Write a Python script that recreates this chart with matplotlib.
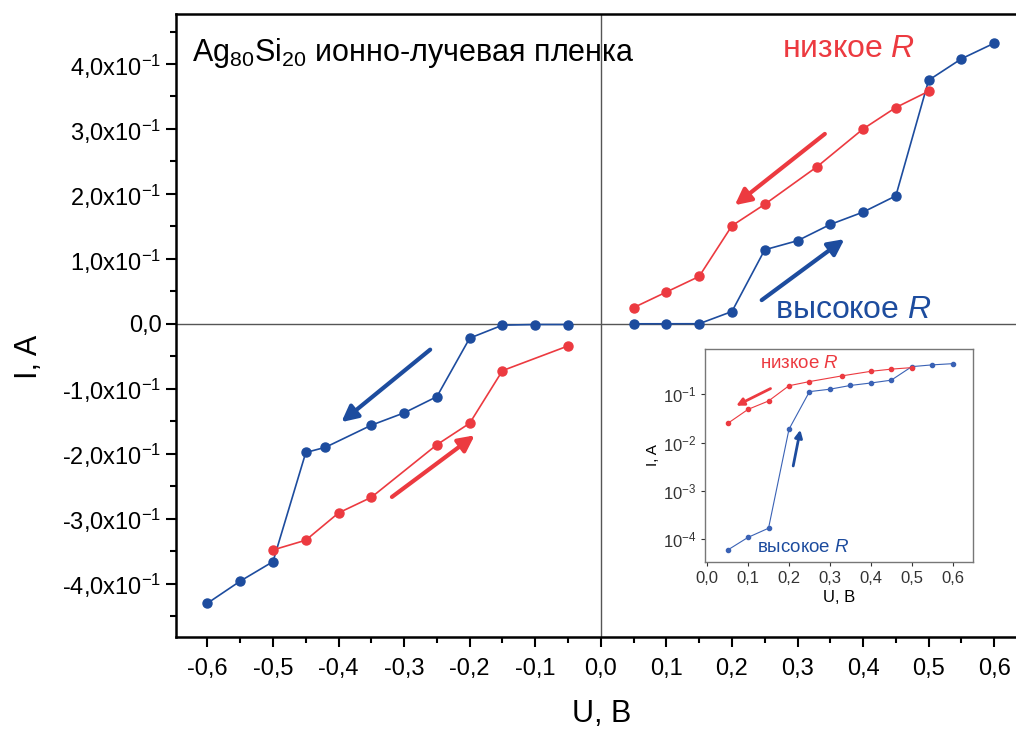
import matplotlib
matplotlib.use('Agg')
import matplotlib.pyplot as plt
import numpy as np
from matplotlib.ticker import FixedLocator, MultipleLocator, FuncFormatter

plt.rcParams['font.family'] = ['Liberation Sans', 'DejaVu Sans']
plt.rcParams['mathtext.fontset'] = 'custom'
plt.rcParams['mathtext.rm'] = 'Liberation Sans'
plt.rcParams['mathtext.it'] = 'Liberation Sans:italic'

RED = '#ec3a40'
BLUE = '#1d4c9e'

# Данные: положительная ветвь (высокое R -> низкое R)
u_blue_pos = [0.05, 0.10, 0.15, 0.20, 0.25, 0.30, 0.35, 0.40, 0.45, 0.50, 0.55, 0.60]
i_blue_pos = [6e-5, 1.1e-4, 1.7e-4, 0.019, 0.114, 0.128, 0.153, 0.172, 0.197, 0.375, 0.408, 0.432]
u_red_pos = [0.05, 0.10, 0.15, 0.20, 0.25, 0.33, 0.40, 0.45, 0.50]
i_red_pos = [0.025, 0.049, 0.073, 0.151, 0.184, 0.242, 0.300, 0.333, 0.358]

# Отрицательная ветвь
u_blue_neg = [-0.60, -0.55, -0.50, -0.45, -0.42, -0.35, -0.30, -0.25, -0.20, -0.15, -0.10, -0.05]
i_blue_neg = [-0.430, -0.396, -0.366, -0.198, -0.190, -0.156, -0.137, -0.112, -0.022, -0.002, -0.001, -0.001]
u_red_neg = [-0.50, -0.45, -0.40, -0.35, -0.25, -0.20, -0.15, -0.05]
i_red_neg = [-0.348, -0.333, -0.291, -0.267, -0.186, -0.153, -0.072, -0.034]

y_ticks = [-0.4, -0.3, -0.2, -0.1, 0.0, 0.1, 0.2, 0.3, 0.4]
x_ticks = [-0.6, -0.5, -0.4, -0.3, -0.2, -0.1, 0.0, 0.1, 0.2, 0.3, 0.4, 0.5, 0.6]


def y_fmt(v, pos):
    if abs(v) < 1e-9:
        return '0,0'
    return ('%.1f' % (v * 10)).replace('.', ',') + 'x10$^{-1}$'


def x_fmt(v, pos):
    return ('%.1f' % v).replace('.', ',').replace('-0,0', '0,0')


fig = plt.figure(figsize=(10.16, 7.31), dpi=100)
ax = fig.add_axes([0.1732, 0.1286, 0.8376, 0.8523])

ax.axhline(0, color='#555555', lw=1.0, zorder=1)
ax.axvline(0, color='#555555', lw=1.0, zorder=1)

kw = dict(marker='o', markersize=6.5, lw=1.2, zorder=3)
ax.plot(u_blue_pos, i_blue_pos, color=BLUE, **kw)
ax.plot(u_red_pos, i_red_pos, color=RED, **kw)
ax.plot(u_blue_neg, i_blue_neg, color=BLUE, **kw)
ax.plot(u_red_neg, i_red_neg, color=RED, **kw)

arr = dict(arrowstyle='-|>', lw=3, mutation_scale=24)
ax.annotate('', xy=(0.201, 0.180), xytext=(0.345, 0.295), arrowprops=dict(color=RED, **arr))
ax.annotate('', xy=(0.375, 0.133), xytext=(0.242, 0.034), arrowprops=dict(color=BLUE, **arr))
ax.annotate('', xy=(-0.399, -0.154), xytext=(-0.257, -0.037), arrowprops=dict(color=BLUE, **arr))
ax.annotate('', xy=(-0.189, -0.169), xytext=(-0.322, -0.269), arrowprops=dict(color=RED, **arr))

ax.set_xlim(-0.648, 0.65)
ax.set_ylim(-0.482, 0.477)
ax.xaxis.set_major_locator(FixedLocator(x_ticks))
ax.yaxis.set_major_locator(FixedLocator(y_ticks))
ax.xaxis.set_minor_locator(MultipleLocator(0.05))
ax.yaxis.set_minor_locator(MultipleLocator(0.05))
ax.xaxis.set_major_formatter(FuncFormatter(x_fmt))
ax.yaxis.set_major_formatter(FuncFormatter(y_fmt))
ax.tick_params(which='major', direction='out', length=7, width=1.5, labelsize=17)
ax.tick_params(axis='x', which='major', pad=8)
ax.tick_params(which='minor', direction='out', length=4, width=1.5)
for s in ax.spines.values():
    s.set_linewidth(1.8)

ax.set_xlabel('U, B', fontsize=22)
ax.set_ylabel('I, A', fontsize=22)
ax.xaxis.set_label_coords(0.5, -0.1)
ax.yaxis.set_label_coords(-0.155, 0.45)

ax.text(0.019, 0.965, 'Ag$_{80}$Si$_{20}$ ионно-лучевая пленка', transform=ax.transAxes,
        fontsize=22, va='top', ha='left')
ax.text(0.277, 0.423, 'низкое $\\mathit{R}$', fontsize=23, va='center', ha='left', color=RED)
ax.text(0.265, 0.022, 'высокое $\\mathit{R}$', fontsize=23, va='center', ha='left', color=BLUE)

# Вставка: логарифмическая шкала
ins = fig.add_axes([0.694, 0.2312, 0.2638, 0.2914])
ins_kw = dict(marker='o', markersize=3, lw=0.8)
ins.plot(u_blue_pos, i_blue_pos, color='#3a62b5', **ins_kw)
ins.plot(u_red_pos, i_red_pos, color=RED, **ins_kw)
ins.set_yscale('log')
ins.set_xlim(-0.005, 0.65)
ins.set_ylim(3.4e-5, 0.87)
ins.xaxis.set_major_locator(MultipleLocator(0.1))
ins.xaxis.set_major_formatter(FuncFormatter(x_fmt))
ins.yaxis.set_major_locator(FixedLocator([1e-4, 1e-3, 1e-2, 1e-1]))
ins.yaxis.set_minor_locator(FixedLocator([]))
ins.tick_params(which='major', direction='out', length=3, width=0.8, labelsize=12, colors='#333333')
for s in ins.spines.values():
    s.set_color('#777777')
    s.set_linewidth(1.0)
ins.set_xlabel('U, B', fontsize=12, labelpad=3)
ins.set_ylabel('I, A', fontsize=11, labelpad=2)
ins.annotate('', xy=(0.065, 0.055), xytext=(0.161, 0.14),
             arrowprops=dict(arrowstyle='-|>', color=RED, lw=2, mutation_scale=11))
ins.annotate('', xy=(0.229, 0.021), xytext=(0.209, 0.0029),
             arrowprops=dict(arrowstyle='-|>', color=BLUE, lw=2, mutation_scale=11))
ins.text(0.205, 0.93, 'низкое $\\mathit{R}$', transform=ins.transAxes,
         fontsize=13.5, va='center', ha='left', color=RED)
ins.text(0.194, 0.066, 'высокое $\\mathit{R}$', transform=ins.transAxes,
         fontsize=13.5, va='center', ha='left', color=BLUE)

fig.savefig('out.png', dpi=100)
